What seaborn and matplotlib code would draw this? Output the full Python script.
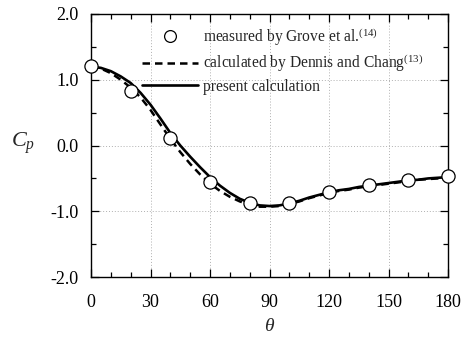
import numpy as np
import pandas as pd
import matplotlib
matplotlib.use("Agg")
import matplotlib.pyplot as plt
from matplotlib.lines import Line2D
from matplotlib.ticker import MultipleLocator
import seaborn as sns

# Measured pressure coefficient (Grove et al.)
theta_meas = [0, 20, 40, 60, 80, 100, 120, 140, 160, 180]
cp_meas = [1.21, 0.83, 0.12, -0.56, -0.88, -0.88, -0.70, -0.60, -0.52, -0.47]

# Calculated curves, sampled every 5 degrees
theta_calc = [0, 5, 10, 15, 20, 25, 30, 35, 40, 45, 50, 55, 60, 65, 70, 75, 80, 85, 90,
              95, 100, 105, 110, 115, 120, 125, 130, 135, 140, 145, 150, 155, 160, 165,
              170, 175, 180]
cp_present = [1.20, 1.18, 1.13, 1.05, 0.95, 0.80, 0.62, 0.41, 0.19, 0.00, -0.17, -0.33,
              -0.48, -0.61, -0.72, -0.81, -0.87, -0.91, -0.92, -0.91, -0.88, -0.84, -0.79,
              -0.75, -0.71, -0.68, -0.66, -0.63, -0.61, -0.59, -0.57, -0.55, -0.53, -0.52,
              -0.50, -0.49, -0.48]
cp_dennis = [1.20, 1.17, 1.10, 1.00, 0.88, 0.73, 0.54, 0.32, 0.10, -0.10, -0.28, -0.44,
             -0.58, -0.69, -0.78, -0.85, -0.90, -0.93, -0.93, -0.92, -0.89, -0.85, -0.80,
             -0.76, -0.72, -0.69, -0.67, -0.64, -0.62, -0.60, -0.58, -0.56, -0.54, -0.52,
             -0.51, -0.50, -0.49]

x_ticks = [0, 30, 60, 90, 120, 150, 180]
y_ticks = [-2.0, -1.0, 0.0, 1.0, 2.0]

lab_meas = r"measured by Grove et al.$^{\mathregular{(14)}}$"
lab_dennis = r"calculated by Dennis and Chang$^{\mathregular{(13)}}$"
lab_present = "present calculation"

sns.set_style("ticks")
plt.rcParams["font.family"] = ["Liberation Serif", "DejaVu Serif"]
plt.rcParams["mathtext.fontset"] = "custom"
plt.rcParams["mathtext.rm"] = "Liberation Serif"
plt.rcParams["mathtext.it"] = "Liberation Serif:italic"

fig = plt.figure(figsize=(4.62, 3.40), dpi=100)
ax = fig.add_axes([0.197, 0.185, 0.773, 0.774])

df_calc = pd.DataFrame({"theta": theta_calc, "present": cp_present, "dennis": cp_dennis})
df_meas = pd.DataFrame({"theta": theta_meas, "cp": cp_meas})

# faint dotted reference grid
for xv in x_ticks[1:-1]:
    ax.axvline(xv, color="#b0b0b0", lw=0.7, ls=(0, (1, 2)), zorder=0)
for yv in y_ticks[1:-1]:
    ax.axhline(yv, color="#b0b0b0", lw=0.7, ls=(0, (1, 2)), zorder=0)

sns.lineplot(data=df_calc, x="theta", y="dennis", ax=ax, color="black", lw=1.8,
             linestyle=(0, (3.0, 2.0)), zorder=2)
sns.lineplot(data=df_calc, x="theta", y="present", ax=ax, color="black", lw=1.9, zorder=3)
sns.scatterplot(data=df_meas, x="theta", y="cp", ax=ax, marker="o", s=90,
                facecolor="white", edgecolor="black", linewidth=0.9, zorder=4,
                clip_on=False)

ax.set_xlim(0, 180)
ax.set_ylim(-2.0, 2.0)
ax.set_xticks(x_ticks)
ax.set_xticklabels([str(v) for v in x_ticks])
ax.set_yticks(y_ticks)
ax.set_yticklabels([f"{v:.1f}" for v in y_ticks])
ax.xaxis.set_minor_locator(MultipleLocator(10))
ax.yaxis.set_minor_locator(MultipleLocator(0.5))
ax.tick_params(which="both", direction="in", top=True, right=True, labelsize=13,
               width=0.9, color="black", labelcolor="black")
ax.tick_params(which="major", length=6)
ax.tick_params(which="minor", length=3.5)
ax.tick_params(axis="y", which="major", pad=9)
ax.tick_params(axis="x", which="major", pad=12)
for sp in ax.spines.values():
    sp.set_linewidth(1.0)
    sp.set_color("black")

ax.set_xlabel(r"$\theta$", fontsize=14, labelpad=5)
ax.set_ylabel(r"$C_p$", fontsize=16, rotation=0, labelpad=0)
ax.yaxis.set_label_coords(-0.19, 0.46)

handles = [
    Line2D([], [], ls="none", marker="o", ms=8.5, mfc="white", mec="black", mew=0.9),
    Line2D([], [], color="black", lw=1.8, ls=(0, (3.0, 2.0))),
    Line2D([], [], color="black", lw=1.9),
]
ax.legend(handles, [lab_meas, lab_dennis, lab_present], loc="upper left",
          bbox_to_anchor=(0.11, 1.0), frameon=False, fontsize=11.2,
          handlelength=3.6, handletextpad=0.3, labelspacing=0.3, borderaxespad=0.35)

fig.savefig("out.png", dpi=100)
